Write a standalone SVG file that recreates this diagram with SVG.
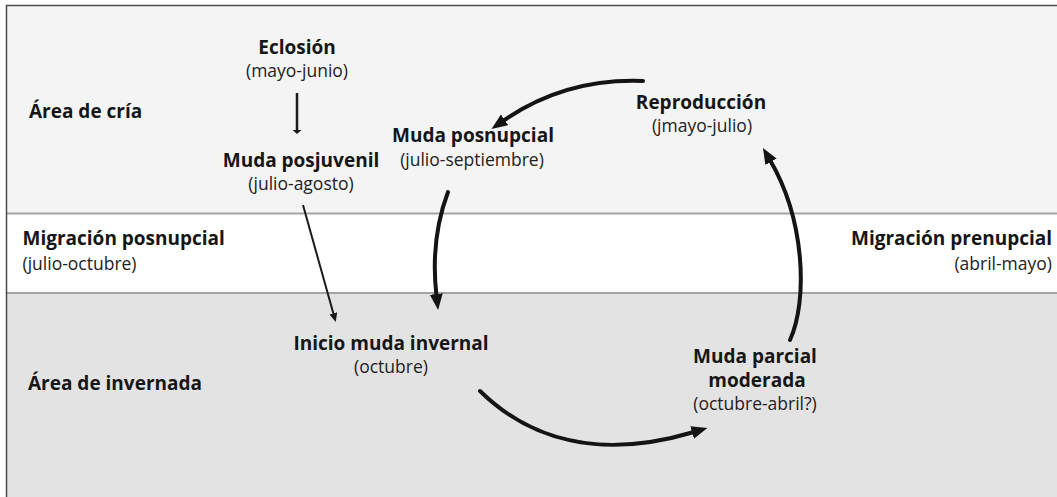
<svg xmlns="http://www.w3.org/2000/svg" width="1057" height="497" viewBox="0 0 1057 497">
  <defs>
    <style>
      .b { font-family: "Open Sans", "Liberation Sans", sans-serif; font-weight: bold; font-size: 19px; fill: #161616; }
      .r { font-family: "Open Sans", "Liberation Sans", sans-serif; font-size: 17.5px; fill: #222222; }
      .mid { text-anchor: middle; }
      .end { text-anchor: end; }
      .thick { fill: none; stroke: #141414; stroke-width: 4; stroke-linecap: round; marker-end: url(#headL); }
      .thin { fill: none; stroke: #1a1a1a; stroke-width: 2; marker-end: url(#headS); }
      .divider { stroke: #a3a3a3; stroke-width: 2; }
    </style>
    <marker id="headL" markerUnits="userSpaceOnUse" markerWidth="18" markerHeight="14" refX="2" refY="6.5" orient="auto">
      <path d="M0,0 L16,6.5 L0,13 z" fill="#141414"/>
    </marker>
    <marker id="headS" markerUnits="userSpaceOnUse" markerWidth="12" markerHeight="10" refX="1" refY="4" orient="auto">
      <path d="M0,0 L9,4 L0,8 z" fill="#1a1a1a"/>
    </marker>
    <marker id="headT" markerUnits="userSpaceOnUse" markerWidth="8" markerHeight="10" refX="1" refY="4.5" orient="auto">
      <path d="M0,0 L4,4.5 L0,9 z" fill="#1a1a1a"/>
    </marker>
  </defs>

  <!-- zone bands -->
  <g id="zones">
    <rect x="0" y="0" width="1057" height="497" fill="#ffffff"/>
    <rect x="6" y="5" width="1051" height="208.5" fill="#f4f4f4"/>
    <rect x="6" y="213.5" width="1051" height="79.5" fill="#ffffff"/>
    <rect x="6" y="293" width="1051" height="204" fill="#e3e3e3"/>
    <line class="divider" x1="6" y1="213.5" x2="1057" y2="213.5"/>
    <line class="divider" x1="6" y1="293" x2="1057" y2="293"/>
    <path d="M6.5,497 L6.5,5.5 L1057,5.5" fill="none" stroke="#4a4a4a" stroke-width="1.5"/>
  </g>

  <!-- zone labels -->
  <g id="zone-labels">
    <text class="b" x="29" y="118">Área de cría</text>
    <text class="b" x="22.5" y="245">Migración posnupcial</text>
    <text class="r" x="22.5" y="269.5">(julio-octubre)</text>
    <text class="b end" x="1052" y="245">Migración prenupcial</text>
    <text class="r end" x="1052" y="269.5">(abril-mayo)</text>
    <text class="b" x="28" y="390">Área de invernada</text>
  </g>

  <!-- stages -->
  <g id="eclosion">
    <text class="b mid" x="297" y="54">Eclosión</text>
    <text class="r mid" x="297" y="77">(mayo-junio)</text>
  </g>
  <g id="muda-posjuvenil">
    <text class="b mid" x="301" y="167">Muda posjuvenil</text>
    <text class="r mid" x="301" y="190">(julio-agosto)</text>
  </g>
  <g id="muda-posnupcial">
    <text class="b mid" x="473" y="142">Muda posnupcial</text>
    <text class="r mid" x="472" y="166">(julio-septiembre)</text>
  </g>
  <g id="reproduccion">
    <text class="b mid" x="701" y="109">Reproducción</text>
    <text class="r mid" x="702" y="132">(jmayo-julio)</text>
  </g>
  <g id="inicio-muda-invernal">
    <text class="b mid" x="391" y="350">Inicio muda invernal</text>
    <text class="r mid" x="391" y="373">(octubre)</text>
  </g>
  <g id="muda-parcial">
    <text class="b mid" x="755" y="363">Muda parcial</text>
    <text class="b mid" x="757" y="387">moderada</text>
    <text class="r mid" x="755" y="410">(octubre-abril?)</text>
  </g>

  <!-- connectors -->
  <g id="connectors">
    <line x1="297" y1="93" x2="297" y2="131" stroke="#1a1a1a" stroke-width="2.5" marker-end="url(#headT)"/>
    <line class="thin" x1="303" y1="205" x2="333.6" y2="314.3"/>
    <path class="thick" d="M643,81 Q565,78 503,121"/>
    <path class="thick" d="M448,192 Q430,240 436.5,296"/>
    <path class="thick" d="M480,391 C530,440 600,460 694,432"/>
    <path class="thick" d="M790,340 C808,300 805,220 770,160"/>
  </g>
</svg>
